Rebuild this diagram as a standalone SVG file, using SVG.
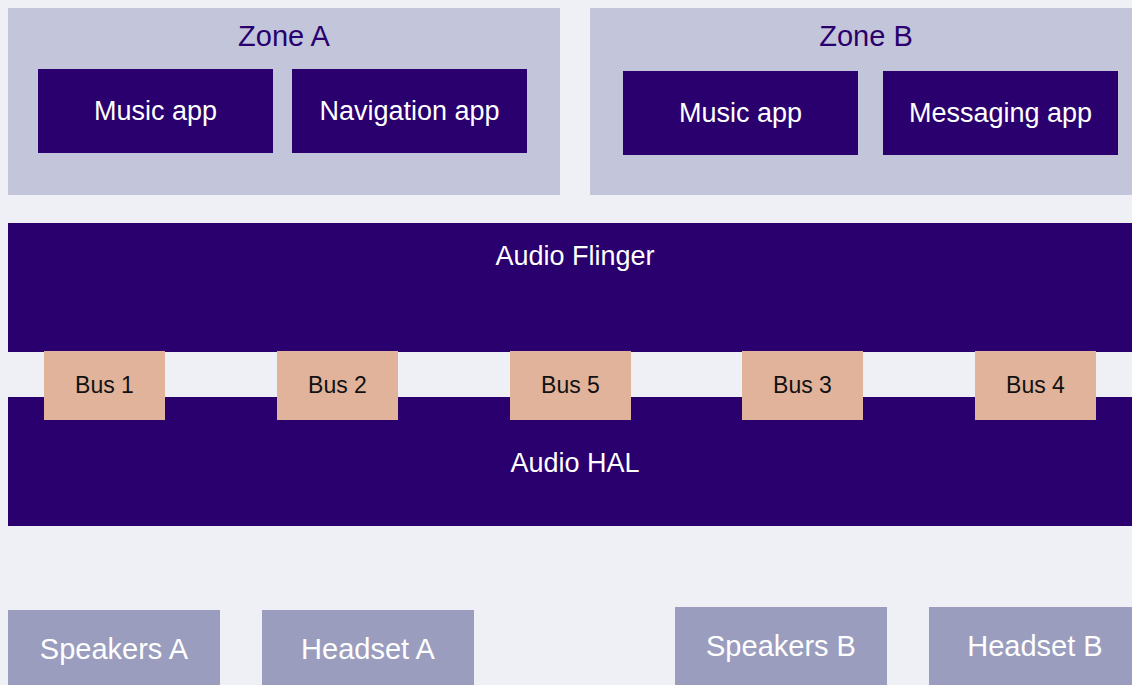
<svg xmlns="http://www.w3.org/2000/svg" width="1132" height="685" viewBox="0 0 1132 685">
  <style>
    text { font-family: "Liberation Sans", Arial, sans-serif; text-anchor: middle; }
    .zone { fill: #c3c6da; }
    .dark { fill: #29006e; }
    .bus { fill: #e1b39b; }
    .dev { fill: #9a9dbe; }
    .zlabel { fill: #29006e; font-size: 29px; }
    .wlabel { fill: #ffffff; font-size: 27px; }
    .blabel { fill: #111111; font-size: 23px; }
    .dlabel { fill: #ffffff; font-size: 29px; }
  </style>
  <rect width="1132" height="685" fill="#eff0f5"/>

  <g id="zone-a">
    <rect class="zone" x="8" y="8" width="552" height="187"/>
    <text class="zlabel" x="284" y="46">Zone A</text>
  </g>
  <g id="music-app-a">
    <rect class="dark" x="38" y="69" width="235" height="84"/>
    <text class="wlabel" x="155.5" y="120">Music app</text>
  </g>
  <g id="navigation-app">
    <rect class="dark" x="292" y="69" width="235" height="84"/>
    <text class="wlabel" x="409.5" y="120">Navigation app</text>
  </g>

  <g id="zone-b">
    <rect class="zone" x="590" y="8" width="542" height="187"/>
    <text class="zlabel" x="866" y="46">Zone B</text>
  </g>
  <g id="music-app-b">
    <rect class="dark" x="623" y="71" width="235" height="84"/>
    <text class="wlabel" x="740.5" y="122">Music app</text>
  </g>
  <g id="messaging-app">
    <rect class="dark" x="883" y="71" width="235" height="84"/>
    <text class="wlabel" x="1000.5" y="122">Messaging app</text>
  </g>

  <g id="audio-flinger">
    <rect class="dark" x="8" y="223" width="1124" height="129"/>
    <text class="wlabel" x="575" y="265">Audio Flinger</text>
  </g>
  <g id="audio-hal">
    <rect class="dark" x="8" y="397" width="1124" height="129"/>
    <text class="wlabel" x="575" y="472">Audio HAL</text>
  </g>

  <g id="bus-1">
    <rect class="bus" x="44" y="351" width="121" height="69"/>
    <text class="blabel" x="104.5" y="393">Bus 1</text>
  </g>
  <g id="bus-2">
    <rect class="bus" x="277" y="351" width="121" height="69"/>
    <text class="blabel" x="337.5" y="393">Bus 2</text>
  </g>
  <g id="bus-5">
    <rect class="bus" x="510" y="351" width="121" height="69"/>
    <text class="blabel" x="570.5" y="393">Bus 5</text>
  </g>
  <g id="bus-3">
    <rect class="bus" x="742" y="351" width="121" height="69"/>
    <text class="blabel" x="802.5" y="393">Bus 3</text>
  </g>
  <g id="bus-4">
    <rect class="bus" x="975" y="351" width="121" height="69"/>
    <text class="blabel" x="1035.5" y="393">Bus 4</text>
  </g>

  <g id="speakers-a">
    <rect class="dev" x="8" y="610" width="212" height="75"/>
    <text class="dlabel" x="114" y="659">Speakers A</text>
  </g>
  <g id="headset-a">
    <rect class="dev" x="262" y="610" width="212" height="75"/>
    <text class="dlabel" x="368" y="659">Headset A</text>
  </g>
  <g id="speakers-b">
    <rect class="dev" x="675" y="607" width="212" height="78"/>
    <text class="dlabel" x="781" y="656">Speakers B</text>
  </g>
  <g id="headset-b">
    <rect class="dev" x="929" y="607" width="203" height="78"/>
    <text class="dlabel" x="1035" y="656">Headset B</text>
  </g>

  <g id="connectors"/>
</svg>
